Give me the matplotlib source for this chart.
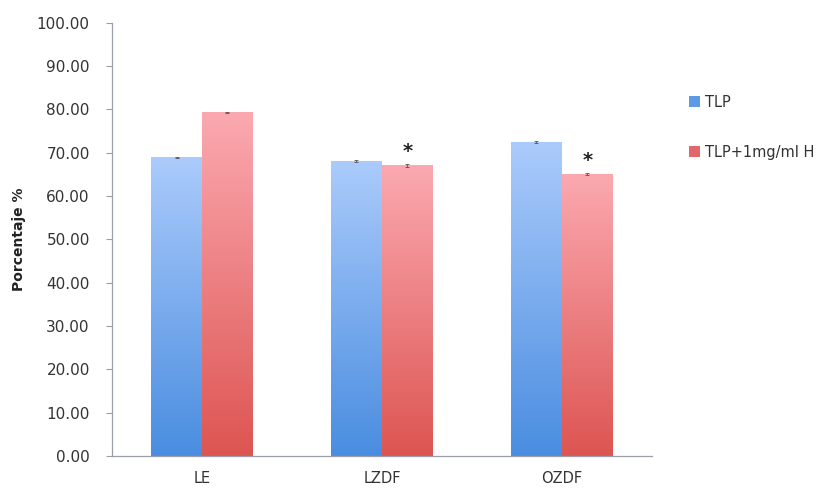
import numpy as np
import matplotlib.pyplot as plt
from matplotlib.colors import LinearSegmentedColormap
from matplotlib.patches import Patch

# Data
categories = ['LE', 'LZDF', 'OZDF']
series_names = ['TLP', 'TLP+1mg/ml H']
tlp = [68.9, 68.1, 72.5]
tlp_h = [79.3, 67.1, 65.1]
tlp_err = [0.2, 0.2, 0.2]
tlp_h_err = [0.2, 0.3, 0.3]
significant = [False, True, True]   # asterisk over TLP+H bar

blue_cmap = LinearSegmentedColormap.from_list('b', ['#4a8de0', '#abcbfb'])
red_cmap = LinearSegmentedColormap.from_list('r', ['#dd5552', '#fba9b0'])

fig = plt.figure(figsize=(8.39, 4.94), dpi=100)
ax = fig.add_axes([0.1335, 0.077, 0.6435, 0.877])

x = np.arange(len(categories))
w = 0.283


def gradient_bars(xpos, vals, cmap):
    bars = ax.bar(xpos, vals, w, color='none', edgecolor='none')
    grad = np.linspace(0, 1, 256).reshape(-1, 1)
    for b in bars:
        x0, y0 = b.get_x(), b.get_y()
        im = ax.imshow(grad, cmap=cmap, aspect='auto', origin='lower',
                       extent=[x0, x0 + b.get_width(), y0, y0 + b.get_height()],
                       zorder=2)
        im.set_clip_path(b)
    return bars


gradient_bars(x - w / 2, tlp, blue_cmap)
gradient_bars(x + w / 2, tlp_h, red_cmap)
ax.errorbar(x - w / 2, tlp, yerr=tlp_err, fmt='none', ecolor='#555555',
            elinewidth=0.6, capsize=1.5, capthick=0.6, zorder=3)
ax.errorbar(x + w / 2, tlp_h, yerr=tlp_h_err, fmt='none', ecolor='#555555',
            elinewidth=0.6, capsize=1.5, capthick=0.6, zorder=3)

for i, s in enumerate(significant):
    if s:
        ax.text(x[i] + w / 2, tlp_h[i] + 1.0, '*', ha='center', va='bottom',
                fontsize=14, fontweight='bold', color='#222222')

ax.set_xlim(-0.5, len(categories) - 0.5)
ax.set_ylim(0, 100)
ax.set_yticks(np.arange(0, 101, 10))
ax.set_yticklabels([f'{v:.2f}' for v in np.arange(0, 101, 10)])
ax.set_xticks(x)
ax.set_xticklabels(categories)
ax.tick_params(axis='x', length=0, pad=11, labelsize=10.5, labelcolor='#333333')
ax.tick_params(axis='y', length=4, width=0.8, color='#9a9ea8', pad=12,
               labelsize=11, labelcolor='#333333')
ax.set_ylabel('Porcentaje %', fontsize=10, fontweight='bold', color='#222222',
              labelpad=8)

for side in ['top', 'right']:
    ax.spines[side].set_visible(False)
for side in ['left', 'bottom']:
    ax.spines[side].set_color('#9a9ea8')
    ax.spines[side].set_linewidth(0.9)

handles = [Patch(facecolor='#5d9ae6'), Patch(facecolor='#e0676a')]
fig.legend(handles, series_names, loc='upper left', bbox_to_anchor=(0.806, 0.835),
           frameon=False, fontsize=10.5, handlelength=0.7, handleheight=0.7,
           handletextpad=0.35, labelspacing=2.4, labelcolor='#333333')

fig.savefig('out.png', dpi=100)
